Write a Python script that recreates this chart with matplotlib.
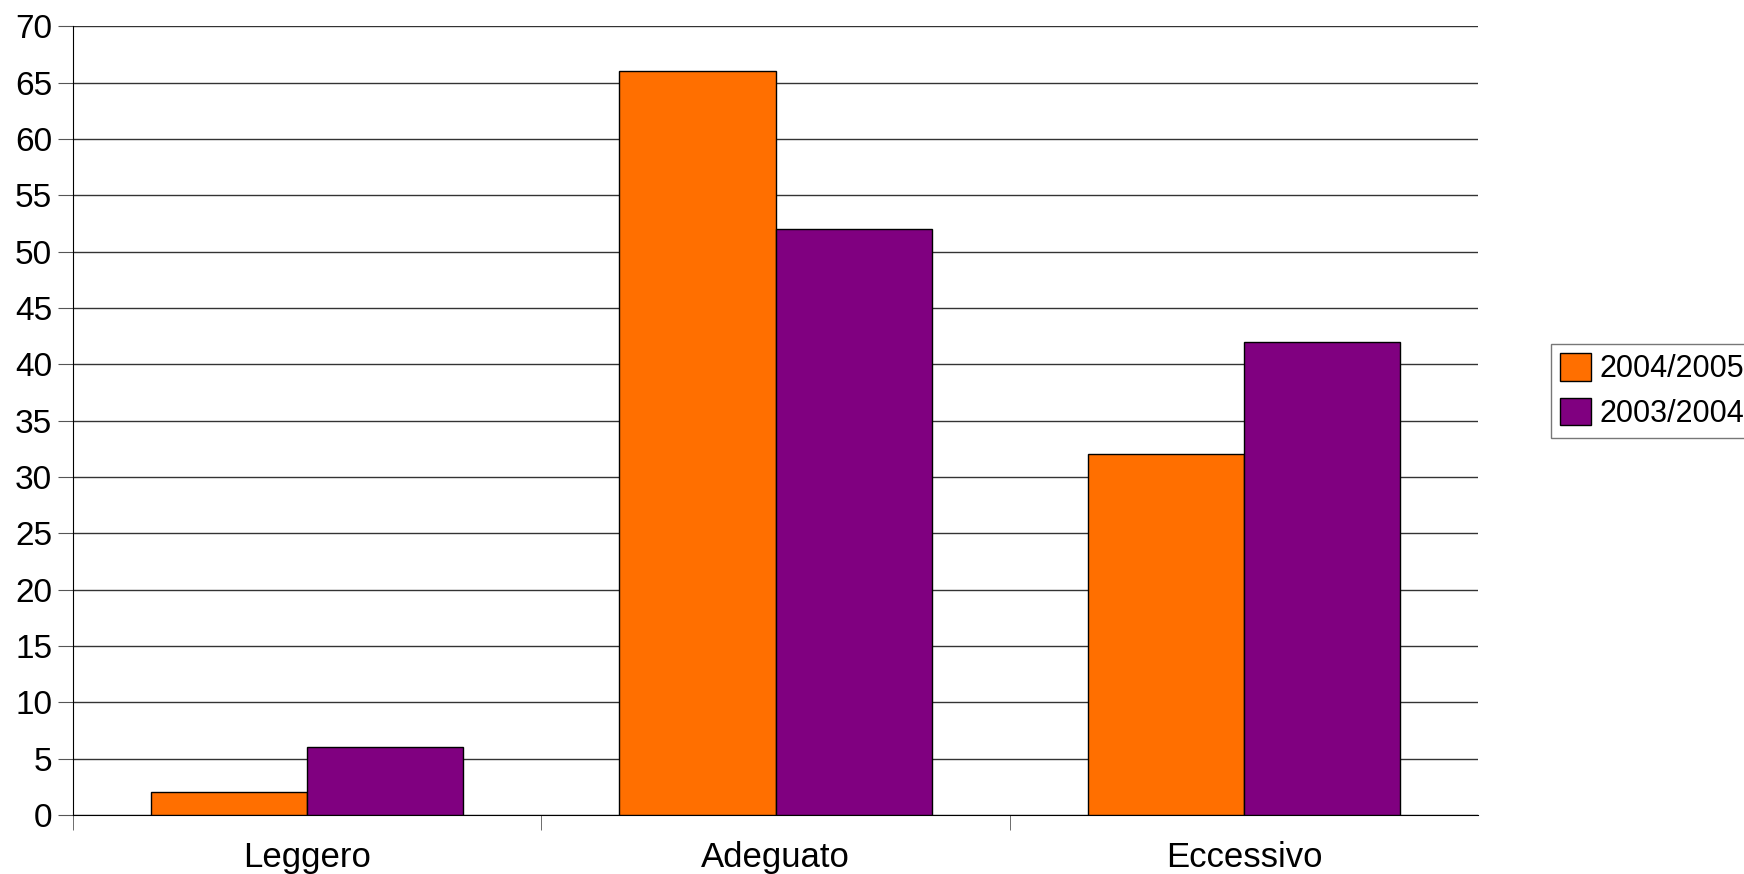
import matplotlib
matplotlib.use("Agg")
import matplotlib.pyplot as plt
import numpy as np

plt.rcParams['font.family'] = ['Liberation Sans', 'DejaVu Sans']

categories = ['Leggero', 'Adeguato', 'Eccessivo']
series_names = ['2004/2005', '2003/2004']
values_2004_2005 = [2, 66, 32]
values_2003_2004 = [6, 52, 42]
colors = ['#ff6f00', '#800080']

fig = plt.figure(figsize=(17.44, 8.74), dpi=100)
ax = fig.add_axes([0.0419, 0.0675, 0.8056, 0.9025])

x = np.arange(len(categories))
w = 1 / 3
ax.bar(x - w / 2, values_2004_2005, w, color=colors[0], edgecolor='black',
       linewidth=1, label=series_names[0], zorder=3)
ax.bar(x + w / 2, values_2003_2004, w, color=colors[1], edgecolor='black',
       linewidth=1, label=series_names[1], zorder=3)

ax.set_xlim(-0.5, len(categories) - 0.5)
ax.set_ylim(0, 70)
ax.set_yticks(range(0, 71, 5))
ax.yaxis.grid(True, color='#333333', linewidth=1)
ax.set_axisbelow(True)

ax.set_xticks(x)
ax.set_xticklabels(categories, fontsize=25)
ax.tick_params(axis='x', length=0, pad=19)
# category separators (no tick at the right end)
ax.set_xticks(np.arange(-0.5, len(categories) - 1, 1), minor=True)
ax.tick_params(axis='x', which='minor', length=11, color='#555555')
ax.tick_params(axis='y', labelsize=24, length=11, color='#555555', pad=4)

for s in ['top', 'right']:
    ax.spines[s].set_visible(False)
ax.spines['left'].set_color('black')
ax.spines['bottom'].set_color('black')

leg = ax.legend(loc='upper left', bbox_to_anchor=(0.8893, 0.6064),
                bbox_transform=fig.transFigure, fontsize=22, frameon=True,
                fancybox=False, edgecolor='#555555', handlelength=1.0,
                handleheight=1.0, handletextpad=0.28, borderpad=0.3,
                labelspacing=0.45, borderaxespad=0)
leg.get_frame().set_linewidth(1)

fig.savefig('out.png', dpi=100)
